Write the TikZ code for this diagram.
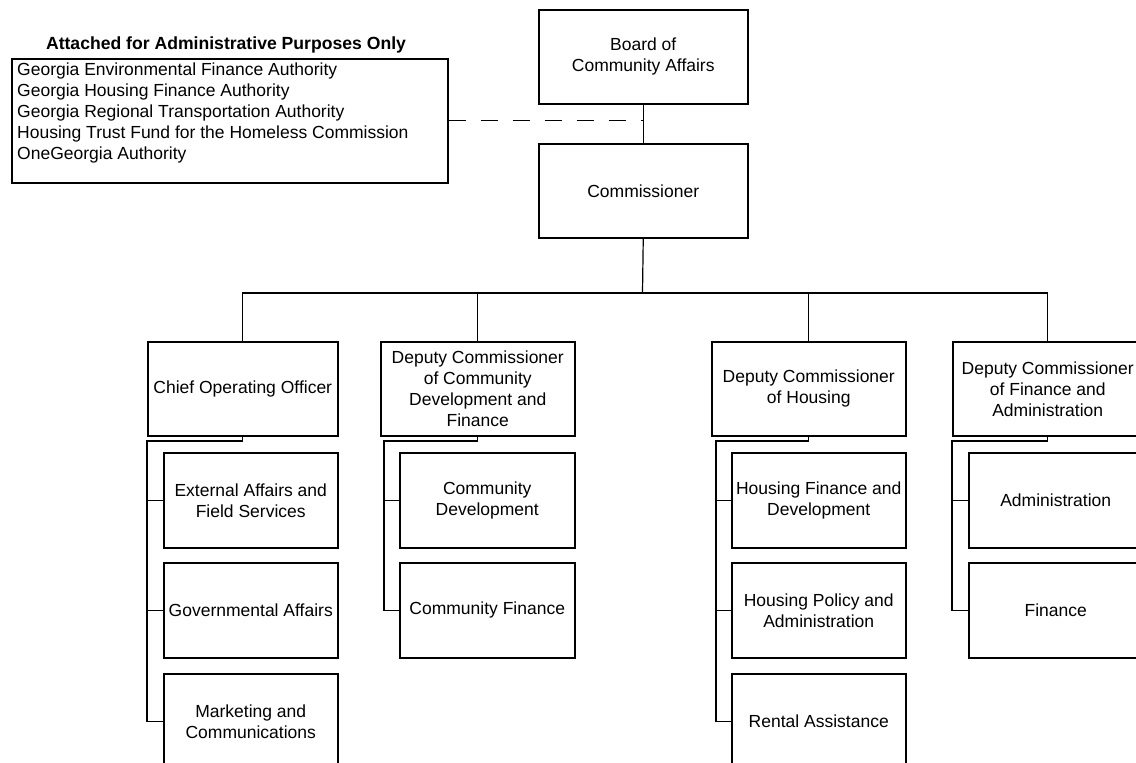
\documentclass[tikz,border=0pt]{standalone}
\usepackage{fontspec}
\setmainfont{Liberation Sans}
\begin{document}
\begin{tikzpicture}[x=1pt,y=-1pt,
  every node/.style={font=\fontsize{17.5}{21}\selectfont},
  box/.style={draw=black, line width=1.5pt, rectangle, inner sep=0pt, align=center, anchor=north west},
  parentbox/.style={box, minimum width=194pt, minimum height=94pt},
  childbox/.style={box, minimum width=175pt, minimum height=95pt},
  topbox/.style={box, minimum width=209pt, minimum height=94pt},
  conn/.style={draw=black, line width=1.2pt}
]
\useasboundingbox (0,0) rectangle (1136,763);
\clip (0,0) rectangle (1136,763);
% top
\node[topbox] (board) at (538,9) {Board of\\Community Affairs};
\node[topbox] (comm) at (538,143) {Commissioner};
% admin
\node[font=\fontsize{17.6}{21}\selectfont\bfseries] (title) at (226,45) {Attached for Administrative Purposes Only};
\node[box, minimum width=436pt, minimum height=124pt] (admin) at (11,58) {};
\node[anchor=north west, inner sep=0pt, align=left] (adminlist) at (17,63) {Georgia Environmental Finance Authority\\Georgia Housing Finance Authority\\Georgia Regional Transportation Authority\\Housing Trust Fund for the Homeless Commission\\OneGeorgia Authority};
% level 2
\node[parentbox, minimum width=190pt] (coo) at (147,341) {Chief Operating Officer};
\node[parentbox] (dcd) at (380,341) {Deputy Commissioner\\of Community\\Development and\\Finance};
\node[parentbox] (dch) at (711,341) {Deputy Commissioner\\of Housing};
\node[parentbox, minimum width=190pt] (dcf) at (952,341) {Deputy Commissioner\\of Finance and\\Administration};
% COO children
\node[childbox, minimum width=174pt] (ext) at (163,452) {External Affairs and\\Field Services};
\node[childbox, minimum width=174pt] (gov) at (163,562) {Governmental Affairs};
\node[childbox, minimum width=174pt] (mkt) at (163,673) {Marketing and\\Communications};
% DCD children
\node[childbox] (cdev) at (399,452) {Community\\Development};
\node[childbox] (cfin) at (399,562) {Community Finance};
% DCH children
\node[childbox, minimum width=174pt] (hfd) at (731,452) {Housing Finance and\\Development};
\node[childbox, minimum width=174pt] (hpa) at (731,562) {Housing Policy and\\Administration};
\node[childbox, minimum width=174pt] (ra) at (731,673) {Rental Assistance};
% DCF children
\node[childbox, minimum width=174pt] (adm) at (968,452) {Administration};
\node[childbox, minimum width=174pt] (fin) at (968,562) {Finance};
% connectors
\coordinate (bus) at (642.5,293);
\draw[conn] (board.south) -- (comm.north);
\draw[conn, dash pattern=on 17pt off 15pt] (admin.east) -- (admin.east -| board.south);
\draw[conn] (comm.south) -- (bus);
\draw[conn] (coo.north) |- (bus) -| (dcf.north);
\draw[conn] (dcd.north) -- (dcd.north |- bus);
\draw[conn] (dch.north) -- (dch.north |- bus);
% stems
\coordinate (s1) at (147,441);
\coordinate (s2) at (384,441);
\coordinate (s3) at (716,441);
\coordinate (s4) at (952,441);
\draw[conn] (coo.south) |- (s1) |- (mkt.west);
\draw[conn] (s1 |- ext.west) -- (ext.west);
\draw[conn] (s1 |- gov.west) -- (gov.west);
\draw[conn] (dcd.south) |- (s2) |- (cfin.west);
\draw[conn] (s2 |- cdev.west) -- (cdev.west);
\draw[conn] (dch.south) |- (s3) |- (ra.west);
\draw[conn] (s3 |- hfd.west) -- (hfd.west);
\draw[conn] (s3 |- hpa.west) -- (hpa.west);
\draw[conn] (dcf.south) |- (s4) |- (fin.west);
\draw[conn] (s4 |- adm.west) -- (adm.west);
\end{tikzpicture}
\end{document}
